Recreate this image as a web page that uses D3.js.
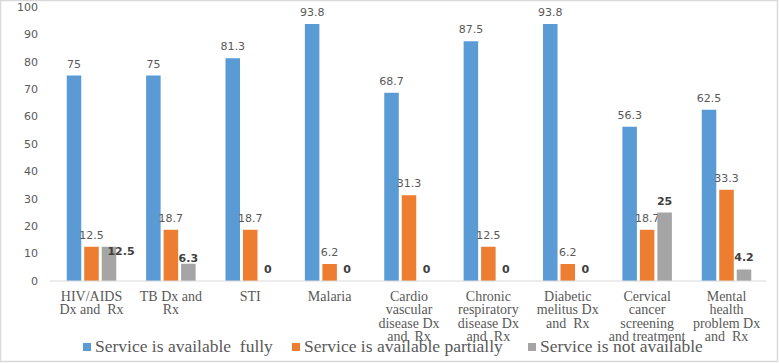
<!DOCTYPE html>
<html>
<head>
<meta charset="utf-8">
<script src="https://cdn.jsdelivr.net/npm/d3@7"></script>
<style>
  body { margin: 0; background: #fff; }
  svg text { white-space: pre; }
</style>
</head>
<body>
<svg width="779" height="363"></svg>
<script>
// categories (line-broken as in the original)
const categories = [
  ["HIV/AIDS", "Dx and  Rx"],
  ["TB Dx and", "Rx"],
  ["STI"],
  ["Malaria"],
  ["Cardio", "vascular", "disease Dx", "and  Rx"],
  ["Chronic", "respiratory", "disease Dx", "and  Rx"],
  ["Diabetic", "melitus Dx", "and  Rx"],
  ["Cervical", "cancer", "screening", "and treatment"],
  ["Mental", "health", "problem Dx", "and  Rx"]
];
const seriesNames = ["Service is available  fully", "Service is available partially", "Service is not available"];
const fully = [75, 75, 81.3, 93.8, 68.7, 87.5, 93.8, 56.3, 62.5];
const partially = [12.5, 18.7, 18.7, 6.2, 31.3, 12.5, 6.2, 18.7, 33.3];
const notAvailable = [12.5, 6.3, 0, 0, 0, 0, 0, 25, 4.2];
const yTicks = [0, 10, 20, 30, 40, 50, 60, 70, 80, 90, 100];

const colors = ["#5B9BD5", "#ED7D31", "#A5A5A5"];
const values = [fully, partially, notAvailable];

const svg = d3.select("svg");

// frame
svg.append("rect").attr("x", 0.5).attr("y", 0.5).attr("width", 777).attr("height", 361)
  .attr("fill", "none").attr("stroke", "#d9d9d9").attr("stroke-width", 1.5);

const x = d3.scaleBand().domain(d3.range(categories.length)).range([51.8, 766.2]);
const xs = d3.scaleBand().domain([0, 1, 2]).range([-24.75, 24.75]).paddingInner(0.17);
const y = d3.scaleLinear().domain([0, 100]).range([281, 7]);

// y tick labels
svg.append("g").selectAll("text").data(yTicks).join("text")
  .attr("x", 38).attr("y", d => y(d)).attr("dy", "0.35em")
  .attr("text-anchor", "end")
  .attr("font-family", "DejaVu Sans, sans-serif").attr("font-size", 11)
  .attr("fill", "#595959")
  .text(d => d);

// bars
const groups = svg.append("g").selectAll("g").data(categories).join("g")
  .attr("transform", (d, i) => `translate(${x(i) + x.bandwidth() / 2},0)`);

groups.each(function (c, i) {
  const g = d3.select(this);
  values.forEach((arr, s) => {
    const v = arr[i];
    g.append("rect")
      .attr("x", xs(s)).attr("width", xs.bandwidth())
      .attr("y", y(v)).attr("height", y(0) - y(v))
      .attr("fill", colors[s]);
    let lx = xs(s) + xs.bandwidth() / 2, ly = y(v) - 8;
    if (s === 2 && i === 0) { lx += 12; ly += 16; }
    if (s === 2 && i === 1) { ly += 6; }
    g.append("text")
      .attr("x", lx).attr("y", ly)
      .attr("text-anchor", "middle")
      .attr("font-family", "DejaVu Sans, sans-serif").attr("font-size", 11)
      .attr("font-weight", s === 2 ? "bold" : "normal")
      .attr("fill", s === 2 ? "#404040" : "#595959")
      .text(v);
  });
  // category label
  g.append("text")
    .attr("text-anchor", "middle")
    .attr("font-family", "Liberation Serif, Times New Roman, serif").attr("font-size", 14)
    .attr("fill", "#595959")
    .selectAll("tspan").data(c).join("tspan")
    .attr("x", 0).attr("y", (d, k) => 300.5 + k * 13.6)
    .text(d => d);
});

// baseline
svg.append("line").attr("x1", 50).attr("x2", 766).attr("y1", y(0)).attr("y2", y(0))
  .attr("stroke", "#d9d9d9").attr("stroke-width", 1);

// legend
const legendX = [83, 292, 528];
const legend = svg.append("g").selectAll("g").data(seriesNames).join("g")
  .attr("transform", (d, i) => `translate(${legendX[i]},0)`);
legend.append("rect").attr("x", 0).attr("y", 343).attr("width", 8).attr("height", 8)
  .attr("fill", (d, i) => colors[i]);
legend.append("text").attr("x", 12).attr("y", 352)
  .attr("font-family", "Liberation Serif, Times New Roman, serif").attr("font-size", 17.5)
  .attr("fill", "#595959")
  .text(d => d);
</script>
</body>
</html>
